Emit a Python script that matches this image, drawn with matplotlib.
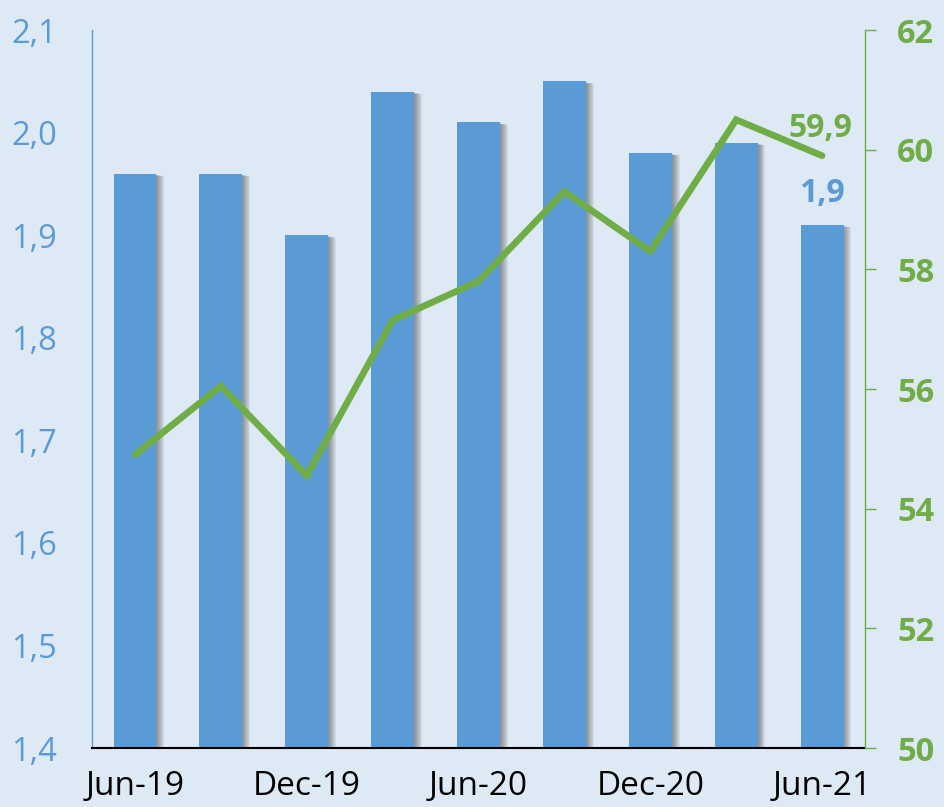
import matplotlib
matplotlib.use("Agg")
import matplotlib.pyplot as plt
import matplotlib.patheffects as pe
from matplotlib.ticker import FuncFormatter, FixedLocator

categories = ["Jun-19", "Sep-19", "Dec-19", "Mar-20", "Jun-20", "Sep-20", "Dec-20", "Mar-21", "Jun-21"]
bar_values = [1.96, 1.96, 1.90, 2.04, 2.01, 2.05, 1.98, 1.99, 1.91]
line_values = [54.9, 56.05, 54.55, 57.15, 57.8, 59.3, 58.3, 60.5, 59.9]
shown_labels = ["Jun-19", "Dec-19", "Jun-20", "Dec-20", "Jun-21"]
left_ticks = [1.4, 1.5, 1.6, 1.7, 1.8, 1.9, 2.0, 2.1]
right_ticks = [50, 52, 54, 56, 58, 60, 62]

BG = "#dde9f5"
BLUE = "#5b9bd5"
GREEN = "#70ad47"
FONT = ["Open Sans", "DejaVu Sans"]
plt.rcParams["font.family"] = FONT

fig = plt.figure(figsize=(9.44, 8.07), dpi=100, facecolor=BG)
ax = fig.add_axes([0.0975, 0.0731, 0.8188, 0.8897])
ax.set_facecolor(BG)
x = list(range(len(categories)))

shadow = [pe.SimplePatchShadow(offset=(0.7 * k, -0.5 - 0.15 * k), shadow_rgbFace="#3a3a3a", alpha=0.08)
          for k in range(8, 0, -1)]
bars = ax.bar(x, bar_values, width=0.5, color=BLUE, zorder=2,
              path_effects=shadow + [pe.Normal()])
ax.set_ylim(1.4, 2.1)
ax.set_xlim(-0.5, len(categories) - 0.5)
ax.yaxis.set_major_locator(FixedLocator(left_ticks))
ax.yaxis.set_major_formatter(FuncFormatter(lambda v, p: f"{v:.1f}".replace(".", ",")))
ax.tick_params(axis="y", length=0, labelsize=23.5, labelcolor=BLUE, pad=25)
ax.set_xticks([i for i, c in enumerate(categories) if c in shown_labels])
ax.set_xticklabels(shown_labels)
ax.tick_params(axis="x", length=0, labelsize=24, labelcolor="black", pad=16)
for s in ["top", "right"]:
    ax.spines[s].set_visible(False)
ax.spines["left"].set_color(BLUE)
ax.spines["left"].set_linewidth(1)
ax.spines["bottom"].set_color("black")
ax.spines["bottom"].set_linewidth(1.5)
ax.spines["bottom"].set_zorder(3)

ax2 = ax.twinx()
ax2.plot(x, line_values, color=GREEN, linewidth=4.8, solid_capstyle="round", solid_joinstyle="miter", zorder=4)
ax2.set_ylim(50, 62)
ax2.yaxis.set_major_locator(FixedLocator(right_ticks))
ax2.tick_params(axis="y", length=8, width=1, color=GREEN, labelsize=23.5, labelcolor=GREEN, pad=15)
for lab in ax2.get_yticklabels():
    lab.set_fontweight("bold")
for s in ["top", "left", "bottom"]:
    ax2.spines[s].set_visible(False)
ax2.spines["right"].set_color(GREEN)
ax2.spines["right"].set_linewidth(1)

ax2.annotate(f"{line_values[-1]:.1f}".replace(".", ","), (x[-1], line_values[-1]),
             xytext=(-1, 8), textcoords="offset points", ha="center", va="bottom",
             color=GREEN, fontsize=23, fontweight="bold")
ax.annotate(f"{bar_values[-1]:.1f}".replace(".", ",")[:3], (x[-1], bar_values[-1]),
            xytext=(0, 11), textcoords="offset points", ha="center", va="bottom",
            color=BLUE, fontsize=23, fontweight="bold")

fig.savefig("out.png", dpi=100, facecolor=BG)
